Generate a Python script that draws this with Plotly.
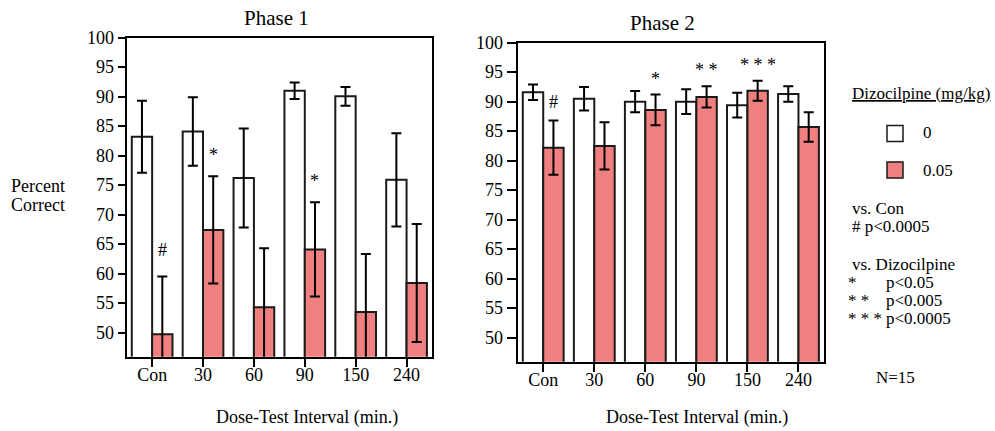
import plotly.graph_objects as go

# ---------------- data ----------------
categories = ["Con", "30", "60", "90", "150", "240"]

p1_vehicle = [83.2, 84.1, 76.2, 91.0, 90.05, 75.9]
p1_vehicle_err = [6.1, 5.8, 8.4, 1.4, 1.6, 7.9]
p1_dizo = [49.7, 67.4, 54.3, 64.1, 53.5, 58.4]
p1_dizo_err = [9.8, 9.1, 10.0, 8.0, 9.8, 10.0]

p2_vehicle = [91.6, 90.5, 90.0, 90.0, 89.4, 91.3]
p2_vehicle_err = [1.3, 2.0, 1.8, 2.1, 2.1, 1.3]
p2_dizo = [82.2, 82.5, 88.6, 90.8, 91.85, 85.7]
p2_dizo_err = [4.6, 4.0, 2.6, 1.8, 1.7, 2.5]

p1_marks = ["#", "*", "", "*", "", ""]
p2_marks = ["#", "", "*", "* *", "* * *", ""]

y_ticks = [50, 55, 60, 65, 70, 75, 80, 85, 90, 95, 100]

# ---------------- style ----------------
FONT = "Liberation Serif"
RED = "#F08080"
W, H = 995, 431


def px_x(p):
    return p / W


def px_y(p):
    return 1 - p / H


fig = go.Figure()


def add_phase(vals_v, err_v, vals_d, err_d, xa, ya):
    common = dict(
        x=categories,
        xaxis=xa,
        yaxis=ya,
        showlegend=False,
        marker_line=dict(color="#1a1a1a", width=2),
    )
    fig.add_trace(go.Bar(
        y=vals_v, name="0", marker_color="white",
        error_y=dict(type="data", array=err_v, color="black", thickness=2, width=5),
        **common))
    fig.add_trace(go.Bar(
        y=vals_d, name="0.05", marker_color=RED,
        error_y=dict(type="data", array=err_d, color="black", thickness=2, width=5),
        **common))


add_phase(p1_vehicle, p1_vehicle_err, p1_dizo, p1_dizo_err, "x", "y")
add_phase(p2_vehicle, p2_vehicle_err, p2_dizo, p2_dizo_err, "x2", "y2")

axis_common = dict(
    showline=True, mirror=True, linecolor="black", linewidth=2,
    ticks="outside", tickcolor="black", tickwidth=2, ticklen=7,
    showgrid=False, zeroline=False, automargin=False,
    tickfont=dict(family=FONT, size=18, color="black"),
)

yaxis_common = dict(axis_common, range=[45.9, 100], tickvals=y_ticks)
xaxis_common = dict(axis_common, type="category", ticklen=8, ticklabelstandoff=-7)

fig.update_layout(
    width=W, height=H, autosize=False,
    margin=dict(l=0, r=0, t=0, b=0, pad=0),
    paper_bgcolor="white", plot_bgcolor="white",
    barmode="group", bargap=0.2, bargroupgap=0,
    font=dict(family=FONT, size=17, color="black"),
    xaxis=dict(xaxis_common, domain=[px_x(126.7), px_x(432)], anchor="y"),
    yaxis=dict(yaxis_common, domain=[px_y(356.7), px_y(37.7)], anchor="x"),
    xaxis2=dict(xaxis_common, domain=[px_x(517.7), px_x(824)], anchor="y2"),
    yaxis2=dict(yaxis_common, domain=[px_y(361.7), px_y(42.7)], anchor="x2",
                ticklen=9),
)

ann = []


def paper_text(text, x, y, size=17, xanchor="center", yanchor="middle"):
    ann.append(dict(text=text, x=px_x(x), y=px_y(y), xref="paper", yref="paper",
                    showarrow=False, xanchor=xanchor, yanchor=yanchor,
                    font=dict(family=FONT, size=size, color="black")))


# titles
paper_text("Phase 1", 276, 18, size=21)
paper_text("Phase 2", 662, 23, size=21)
# axis titles
paper_text("Percent", 38, 186, size=18)
paper_text("Correct", 38, 205, size=18)
paper_text("Dose-Test Interval (min.)", 307, 417, size=18)
paper_text("Dose-Test Interval (min.)", 697, 417, size=18)

# significance marks (placed just above each upper error bar)
for marks, vals, errs, xr, yr, star_shift, hash_shift in [
    (p1_marks, p1_dizo, p1_dizo_err, "x", "y", 9, 15),
    (p2_marks, p2_dizo, p2_dizo_err, "x2", "y2", 4, 7),
]:
    for i, m in enumerate(marks):
        if not m:
            continue
        ann.append(dict(text=m, x=i + 0.2, y=vals[i] + errs[i], xref=xr, yref=yr,
                        showarrow=False, xanchor="center", yanchor="bottom",
                        yshift=hash_shift if m == "#" else star_shift,
                        font=dict(family=FONT, size=18, color="black")))

# legend block
paper_text("<u>Dizocilpine (mg/kg)</u>", 850, 94, xanchor="left")
paper_text("0", 921, 132, xanchor="left")
paper_text("0.05", 921, 170, xanchor="left")
paper_text("vs. Con", 850, 209, xanchor="left")
paper_text("# p<0.0005", 850, 227, xanchor="left")
paper_text("vs. Dizocilpine", 850, 264, xanchor="left")
for txt, yy in [("*", 282), ("* *", 300), ("* * *", 318)]:
    paper_text(txt, 846, yy, xanchor="left")
for txt, yy in [("p<0.05", 282), ("p<0.005", 300), ("p<0.0005", 318)]:
    paper_text(txt, 884, yy, xanchor="left")
paper_text("N=15", 895, 377)

fig.update_layout(annotations=ann)

shapes = []
for color, yc in [("white", 133.5), (RED, 170)]:
    shapes.append(dict(type="rect", xref="paper", yref="paper",
                       x0=px_x(887), x1=px_x(903), y0=px_y(yc + 8), y1=px_y(yc - 8),
                       fillcolor=color, line=dict(color="#1a1a1a", width=1.5)))
fig.update_layout(shapes=shapes)

fig.write_html(
    "out.html",
    config={"displayModeBar": False},
    post_script="document.body.style.margin='0';document.body.style.overflow='hidden';",
)
